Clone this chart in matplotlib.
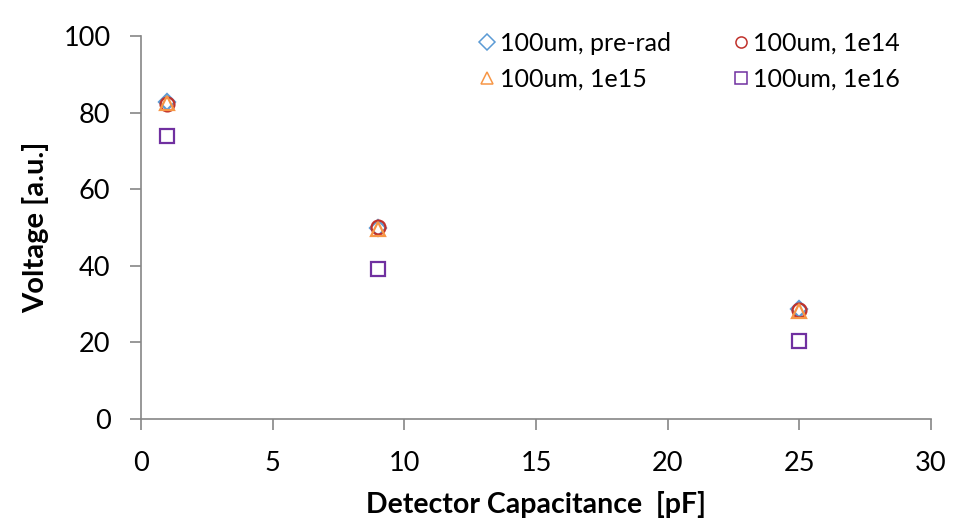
import matplotlib
matplotlib.use("Agg")
import matplotlib.pyplot as plt

capacitance = [1, 9, 25]
pre_rad = [82.8, 50.0, 28.6]
fluence_1e14 = [82.2, 50.1, 28.5]
fluence_1e15 = [82.5, 49.6, 28.2]
fluence_1e16 = [73.9, 39.2, 20.4]

series = [
    ("100um, pre-rad", pre_rad, "D", "#5B9BD5", 8),
    ("100um, 1e14", fluence_1e14, "o", "#C0312B", 10),
    ("100um, 1e15", fluence_1e15, "^", "#F79646", 10),
    ("100um, 1e16", fluence_1e16, "s", "#7030A0", 10),
]

plt.rcParams["font.family"] = ["Lato", "DejaVu Sans"]

fig = plt.figure(figsize=(9.61, 5.19), dpi=100)
ax = fig.add_axes([141 / 961, 1 - 419 / 519, 790 / 961, 383 / 519])

handles = []
for label, values, marker, color, size in series:
    line, = ax.plot(capacitance, values, linestyle="none", marker=marker, markersize=size,
                    markerfacecolor="none", markeredgecolor=color, markeredgewidth=1.6,
                    label=label, clip_on=False)
    handles.append(line)

ax.set_xlim(0, 30)
ax.set_ylim(0, 100)
ax.set_xticks(range(0, 31, 5))
ax.set_yticks(range(0, 101, 20))
for side in ("top", "right"):
    ax.spines[side].set_visible(False)
for side in ("left", "bottom"):
    ax.spines[side].set_color("#868686")
    ax.spines[side].set_linewidth(1.2)
ax.tick_params(direction="out", length=8, width=1.2, color="#868686", labelsize=19.5)
ax.tick_params(axis="x", pad=15)
ax.tick_params(axis="y", pad=14)
ax.set_xlabel("Detector Capacitance  [pF]", fontsize=20.5, fontweight="bold", labelpad=11)
ax.set_ylabel("Voltage [a.u.]", fontsize=21, fontweight="bold", labelpad=10)

# legend fills row by row in the reference
order = [0, 2, 1, 3]
leg = ax.legend([handles[i] for i in order], [series[i][0] for i in order],
                ncol=2, loc="upper left", bbox_to_anchor=(467 / 961, 1 - 22 / 519),
                bbox_transform=fig.transFigure, frameon=False, fontsize=18,
                handletextpad=0.1, columnspacing=2.4, labelspacing=0.5,
                handlelength=0.8, borderaxespad=0)
for h in leg.legend_handles:
    h.set_markersize(8)
    h.set_markeredgewidth(1.1)

fig.savefig("out.png", dpi=100)
